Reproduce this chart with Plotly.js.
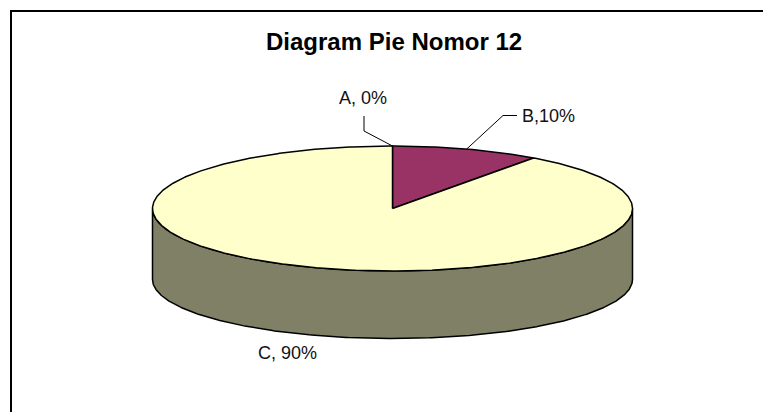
<!DOCTYPE html>
<html><head><meta charset="utf-8">
<script src="https://cdn.plot.ly/plotly-3.0.1.min.js"></script>
<style>html,body{margin:0;padding:0;background:#fff}#c{width:763px;height:412px}</style>
</head><body><div id="c"></div>
<script>
var categories = ['A', 'B', 'C'];
var seriesValues = [0, 10, 90];
var sliceLabels = ['A, 0%', 'B,10%', 'C, 90%'];
var topColors = ['#FFFFCC', '#993366', '#FFFFCC'];
var sideColor = '#808066';
var chartTitle = 'Diagram Pie Nomor 12';

var cx = 392.5, cy = 208.5, rx = 240, ry = 62.5, depth = 71, ryLow = 59;
var font = 'Liberation Sans, Arial, sans-serif';
var total = seriesValues.reduce(function (a, b) { return a + b; }, 0);
function px(t) { return cx + rx * Math.sin(t); }
function py(t) { return cy - ry * Math.cos(t); }
function arc(t0, t1, dy, r) {
  var n = Math.max(2, Math.ceil(Math.abs(t1 - t0) / 0.01)), xs = [], ys = [];
  for (var i = 0; i <= n; i++) {
    var t = t0 + (t1 - t0) * i / n;
    xs.push(px(t)); ys.push(cy + dy - (r || ry) * Math.cos(t));
  }
  return { x: xs, y: ys };
}
var traces = [];
var lo = arc(Math.PI / 2, 3 * Math.PI / 2, 0), hi = arc(3 * Math.PI / 2, Math.PI / 2, depth, ryLow);
traces.push({
  type: 'scatter', mode: 'lines', hoverinfo: 'skip', showlegend: false,
  x: lo.x.concat(hi.x, [lo.x[0]]), y: lo.y.concat(hi.y, [lo.y[0]]),
  fill: 'toself', fillcolor: sideColor, line: { color: '#000', width: 1.5 }
});
var start = 0;
var slices = seriesValues.map(function (v, i) {
  var a0 = start, a1 = start + v / total * 2 * Math.PI;
  start = a1;
  return { i: i, a0: a0, a1: a1, v: v };
}).filter(function (s) { return s.v > 0; });
slices.forEach(function (s) {
  var p = arc(s.a0, s.a1, 0);
  traces.push({
    type: 'scatter', mode: 'lines', hoverinfo: 'skip', showlegend: false,
    name: categories[s.i],
    x: [cx].concat(p.x, [cx]), y: [cy].concat(p.y, [cy]),
    fill: 'toself', fillcolor: topColors[s.i], line: { color: '#000', width: 1.5 }
  });
});
function leader(midValue, pts) {
  var t = midValue / total * 2 * Math.PI;
  return {
    type: 'scatter', mode: 'lines', hoverinfo: 'skip', showlegend: false,
    x: [px(t)].concat(pts.map(function (q) { return q[0]; })),
    y: [py(t)].concat(pts.map(function (q) { return q[1]; })),
    line: { color: '#000', width: 1 }
  };
}
traces.push(leader(seriesValues[0] / 2, [[364, 131], [364, 116]]));
traces.push(leader(seriesValues[0] + seriesValues[1] / 2, [[503, 115.5], [517, 115.5]]));

function label(text, x, y) {
  return {
    text: text, x: x, y: y, xref: 'x', yref: 'y', showarrow: false,
    xanchor: 'left', yanchor: 'middle',
    font: { family: font, size: 18, color: '#111' }
  };
}
var layout = {
  width: 763, height: 412, margin: { l: 0, r: 0, t: 0, b: 0 },
  paper_bgcolor: '#fff', plot_bgcolor: '#fff', showlegend: false,
  xaxis: { range: [0, 763], visible: false, fixedrange: true },
  yaxis: { range: [412, 0], visible: false, fixedrange: true },
  shapes: [
    { type: 'line', xref: 'x', yref: 'y', x0: 10, y0: 11, x1: 763, y1: 11, line: { color: '#000', width: 2 } },
    { type: 'line', xref: 'x', yref: 'y', x0: 11, y0: 10, x1: 11, y1: 412, line: { color: '#000', width: 2 } }
  ],
  annotations: [
    { text: '<b>' + chartTitle + '</b>', x: 394, y: 41, xref: 'x', yref: 'y', showarrow: false,
      xanchor: 'center', yanchor: 'middle', font: { family: font, size: 24, color: '#000' } },
    label(sliceLabels[0], 337, 98),
    label(sliceLabels[1], 520, 116),
    label(sliceLabels[2], 256, 353)
  ]
};
Plotly.newPlot('c', traces, layout, { displayModeBar: false, staticPlot: true });
</script></body></html>
